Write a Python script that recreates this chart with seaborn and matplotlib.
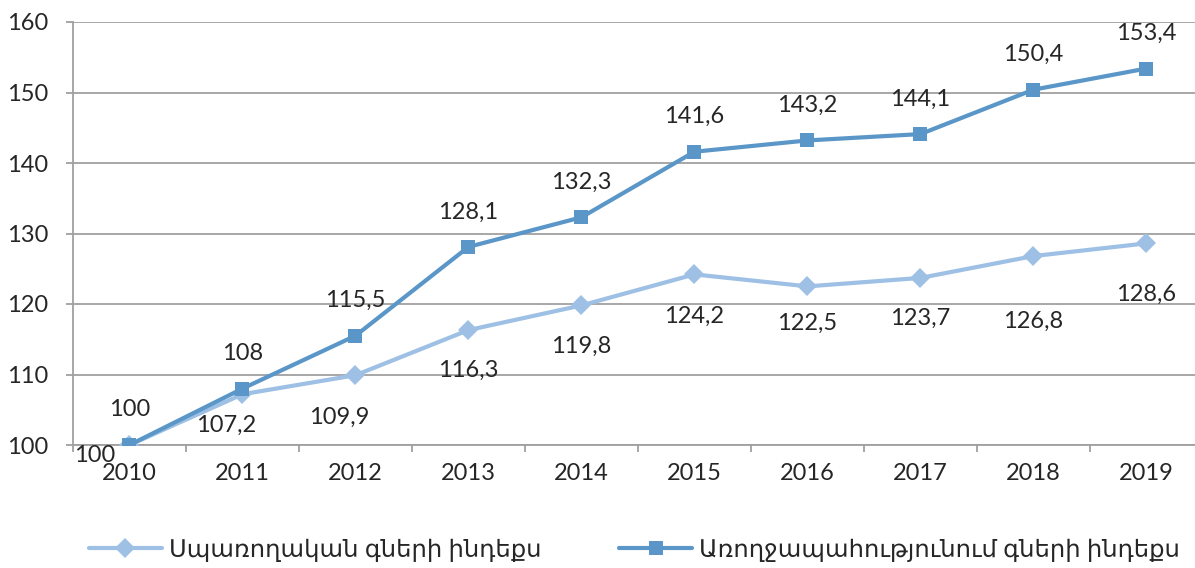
import pandas as pd
import matplotlib.pyplot as plt
import seaborn as sns

# Data
years = [2010, 2011, 2012, 2013, 2014, 2015, 2016, 2017, 2018, 2019]
consumer_index = [100, 107.2, 109.9, 116.3, 119.8, 124.2, 122.5, 123.7, 126.8, 128.6]
health_index = [100, 108, 115.5, 128.1, 132.3, 141.6, 143.2, 144.1, 150.4, 153.4]
consumer_name = 'Սպառողական գների ինդեքս'
health_name = 'Առողջապահությունում գների ինդեքս'

# label offsets in pixels (x, y) relative to the point
consumer_offsets = [(-35, -10), (-16, -31), (-16, -42), (0, -40), (0, -41),
                    (0, -42), (0, -37), (0, -40), (0, -65), (0, -51)]
health_offsets = [(0, 35)] * 10

light = '#9dc0e4'
dark = '#5a96c8'

df = pd.DataFrame({
    'year': years * 2,
    'value': consumer_index + health_index,
    'series': [consumer_name] * len(years) + [health_name] * len(years),
})

sns.set_style('white')
plt.rcParams['font.family'] = ['Lato', 'DejaVu Sans']

fig = plt.figure(figsize=(11.95, 5.68), dpi=100)
ax = fig.add_axes([73 / 1195, 123 / 568, 1 - 73 / 1195, 423 / 568])

sns.lineplot(data=df, x='year', y='value', hue='series', style='series',
             palette={consumer_name: light, health_name: dark},
             markers={consumer_name: 'D', health_name: 's'},
             dashes=False, linewidth=3, markersize=10, markeredgewidth=0,
             legend=False, ax=ax, zorder=3)

def fmt(v):
    s = f'{v:g}'
    return s.replace('.', ',')

for x, v, off in zip(years, consumer_index, consumer_offsets):
    ax.annotate(fmt(v), (x, v), xytext=(off[0] * 0.72, off[1] * 0.72),
                textcoords='offset points', ha='center', va='center', fontsize=17)
for x, v, off in zip(years, health_index, health_offsets):
    ax.annotate(fmt(v), (x, v), xytext=(off[0] * 0.72, off[1] * 0.72),
                textcoords='offset points', ha='center', va='center', fontsize=17)

ax.set_xlim(2009.5, 2019.43)
ax.set_ylim(100, 160)
ax.set_yticks(range(100, 161, 10))
ax.set_xticks(years)
ax.set_xticks([y + 0.5 for y in years[:-1]] + [2009.5], minor=True)
ax.set_xlabel('')
ax.set_ylabel('')

ax.grid(axis='y', color='#a0a0a0', linewidth=1.3)
ax.set_axisbelow(True)
for side in ['top', 'right']:
    ax.spines[side].set_visible(False)
for side in ['left', 'bottom']:
    ax.spines[side].set_color('#a0a0a0')
    ax.spines[side].set_linewidth(1.3)

ax.tick_params(axis='x', which='major', length=0, pad=13, labelsize=17)
ax.tick_params(axis='x', which='minor', length=5, width=1.3, color='#a0a0a0', direction='out', bottom=True)
ax.tick_params(axis='y', length=5, width=1.3, color='#a0a0a0', direction='out', left=True, pad=13, labelsize=17)

handles = [
    plt.Line2D([], [], color=light, linewidth=3, marker='D', markersize=10, markeredgewidth=0),
    plt.Line2D([], [], color=dark, linewidth=3, marker='s', markersize=10, markeredgewidth=0),
]
fig.legend(handles, [consumer_name, health_name], loc='center', ncol=2,
           bbox_to_anchor=(0.531, 18 / 568), frameon=False, fontsize=17.5,
           handlelength=3, handletextpad=0.3, columnspacing=3.2)

fig.savefig('out.png', dpi=100)
